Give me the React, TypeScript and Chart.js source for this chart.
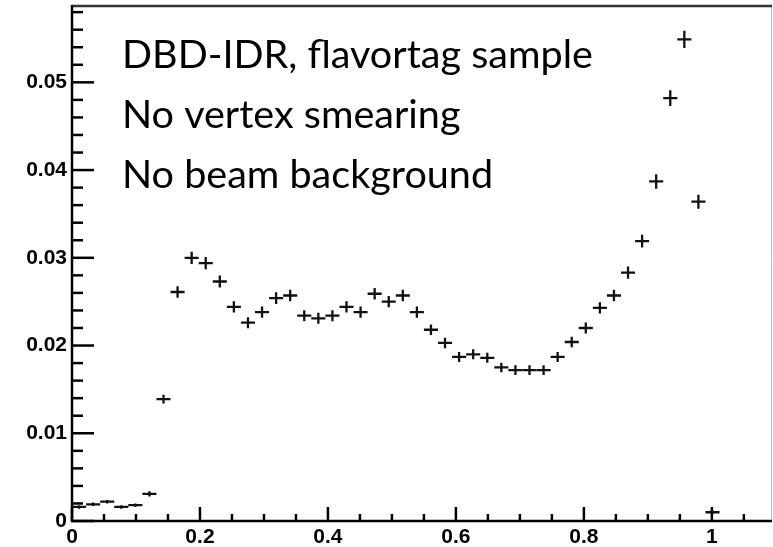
import React, { useEffect, useRef } from "react";
import { Chart, registerables } from "chart.js";

Chart.register(...registerables);

// Bin centres (50 bins of width 0.022 on [0, 1.1]; only filled bins listed)
const binCenters = [
  0.011, 0.033, 0.055, 0.077, 0.099, 0.121, 0.143, 0.165, 0.187, 0.209,
  0.231, 0.253, 0.275, 0.297, 0.319, 0.341, 0.363, 0.385, 0.407, 0.429,
  0.451, 0.473, 0.495, 0.517, 0.539, 0.561, 0.583, 0.605, 0.627, 0.649,
  0.671, 0.693, 0.715, 0.737, 0.759, 0.781, 0.803, 0.825, 0.847, 0.869,
  0.891, 0.913, 0.935, 0.957, 0.979, 1.001,
];
const binHalfWidth = 0.011;

const values = [
  0.0016, 0.0019, 0.0022, 0.0016, 0.0018, 0.0031, 0.0139, 0.0261, 0.03, 0.0294,
  0.0273, 0.0244, 0.0226, 0.0238, 0.0254, 0.0257, 0.0234, 0.0231, 0.0234, 0.0244,
  0.0238, 0.0259, 0.025, 0.0257, 0.0238, 0.0218, 0.0203, 0.0187, 0.019, 0.0186,
  0.0175, 0.0172, 0.0172, 0.0172, 0.0187, 0.0204, 0.022, 0.0243, 0.0257, 0.0283,
  0.0319, 0.0387, 0.0482, 0.0549, 0.0364, 0.001,
];

const errors = [
  0.0002, 0.0002, 0.0002, 0.0002, 0.0002, 0.0003, 0.0005, 0.00066, 0.0007, 0.0007,
  0.00068, 0.00064, 0.00062, 0.00064, 0.00066, 0.00066, 0.00063, 0.00063, 0.00063, 0.00064,
  0.00064, 0.00066, 0.00065, 0.00066, 0.00064, 0.00061, 0.0006, 0.00057, 0.00057, 0.00057,
  0.00055, 0.00055, 0.00055, 0.00055, 0.00057, 0.0006, 0.00062, 0.00064, 0.00066, 0.0007,
  0.00074, 0.00082, 0.0009, 0.00098, 0.0008, 0.0002,
];

const xTickLabels = ["0", "0.2", "0.4", "0.6", "0.8", "1"];
const yTickLabels = ["0", "0.01", "0.02", "0.03", "0.04", "0.05"];
const annotationLines = [
  "DBD-IDR, flavortag sample",
  "No vertex smearing",
  "No beam background",
];

const X_MIN = 0;
const X_MAX = 1.094;
const Y_MIN = 0;
const Y_MAX = 0.0587;

const labelFont = { family: "'Liberation Sans', Arial, sans-serif", weight: "bold" as const, size: 21 };

function fmt(v: number) {
  return String(Number(v.toFixed(3)));
}

const rootPlugin = {
  id: "rootStyle",
  afterDatasetsDraw(chart: any) {
    const { ctx, chartArea: a, scales } = chart;
    const x = scales.x;
    const y = scales.y;
    ctx.save();
    // frame
    ctx.strokeStyle = "#bdbdbd";
    ctx.lineWidth = 1;
    ctx.beginPath();
    ctx.moveTo(a.right - 0.5, a.top);
    ctx.lineTo(a.right - 0.5, a.bottom);
    ctx.stroke();
    ctx.strokeStyle = "#333";
    ctx.lineWidth = 2.5;
    ctx.beginPath();
    ctx.moveTo(a.left, a.top);
    ctx.lineTo(a.right, a.top);
    ctx.stroke();
    ctx.strokeStyle = "#000";
    ctx.lineWidth = 2.5;
    ctx.beginPath();
    ctx.moveTo(a.left, a.top - 1);
    ctx.lineTo(a.left, a.bottom);
    ctx.lineTo(a.right, a.bottom);
    ctx.stroke();

    // y ticks
    ctx.lineWidth = 2.5;
    for (let k = 0; k <= 29; k++) {
      const v = k * 0.002;
      if (v > Y_MAX) break;
      const py = y.getPixelForValue(v);
      const len = k % 5 === 0 ? 22 : 11;
      ctx.beginPath();
      ctx.moveTo(a.left, py);
      ctx.lineTo(a.left + len, py);
      ctx.stroke();
    }
    // x ticks
    for (let k = 0; k <= 21; k++) {
      const v = k * 0.05;
      if (v > X_MAX) break;
      const px = x.getPixelForValue(v);
      const len = k % 4 === 0 ? 14 : 7;
      ctx.beginPath();
      ctx.moveTo(px, a.bottom);
      ctx.lineTo(px, a.bottom - len);
      ctx.stroke();
    }

    // data crosses
    ctx.strokeStyle = "#111";
    ctx.lineWidth = 2.3;
    values.forEach((v, i) => {
      const c = binCenters[i];
      const cx = x.getPixelForValue(c);
      const x0 = x.getPixelForValue(c - binHalfWidth);
      const x1 = x.getPixelForValue(c + binHalfWidth);
      const cy = y.getPixelForValue(v);
      const y0 = y.getPixelForValue(v - errors[i]);
      const y1 = y.getPixelForValue(v + errors[i]);
      ctx.beginPath();
      ctx.moveTo(x0, cy);
      ctx.lineTo(x1, cy);
      ctx.moveTo(cx, y0);
      ctx.lineTo(cx, y1);
      ctx.stroke();
    });

    // annotation
    ctx.fillStyle = "#000";
    ctx.textAlign = "left";
    ctx.textBaseline = "alphabetic";
    ctx.font = "100px Lato";
    const w = ctx.measureText(annotationLines[0]).width;
    const size = (100 * 471) / w;
    ctx.font = `${size}px Lato`;
    const baselines = [68, 128, 188];
    annotationLines.forEach((t, i) => ctx.fillText(t, 122, baselines[i]));
    ctx.restore();
  },
};

export default function App() {
  const ref = useRef<HTMLCanvasElement | null>(null);
  useEffect(() => {
    if (!ref.current) return;
    const chart = new Chart(ref.current, {
      type: "scatter",
      data: {
        datasets: [
          {
            data: binCenters.map((c, i) => ({ x: c, y: values[i] })),
            pointRadius: 0,
            showLine: false,
          },
        ],
      },
      options: {
        animation: false,
        responsive: false,
        devicePixelRatio: 1,
        layout: { padding: { top: 6, right: 1, left: 0, bottom: 0 } },
        plugins: { legend: { display: false }, tooltip: { enabled: false } },
        scales: {
          x: {
            type: "linear",
            min: X_MIN,
            max: X_MAX,
            grid: { display: false, drawTicks: false },
            border: { display: false },
            ticks: {
              stepSize: 0.2,
              includeBounds: false,
              autoSkip: false,
              maxRotation: 0,
              padding: 4,
              color: "#000",
              font: labelFont,
              callback: (v: any) => {
                const s = fmt(Number(v));
                return xTickLabels.includes(s) ? s : "";
              },
            },
            afterFit: (s: any) => {
              s.height = 26;
              s.paddingLeft = 0;
              s.paddingRight = 0;
            },
          },
          y: {
            type: "linear",
            min: Y_MIN,
            max: Y_MAX,
            grid: { display: false, drawTicks: false },
            border: { display: false },
            ticks: {
              stepSize: 0.01,
              includeBounds: false,
              autoSkip: false,
              padding: 5,
              color: "#000",
              font: labelFont,
              callback: (v: any) => {
                const s = fmt(Number(v));
                return yTickLabels.includes(s) ? s : "";
              },
            },
            afterFit: (s: any) => {
              s.width = 72;
              s.paddingTop = 0;
              s.paddingBottom = 0;
            },
          },
        },
      },
      plugins: [rootPlugin],
    });
    return () => chart.destroy();
  }, []);
  return (
    <canvas
      ref={ref}
      width={773}
      height={547}
      style={{ position: "absolute", left: 0, top: 0, width: 773, height: 547, background: "#fff" }}
    />
  );
}
